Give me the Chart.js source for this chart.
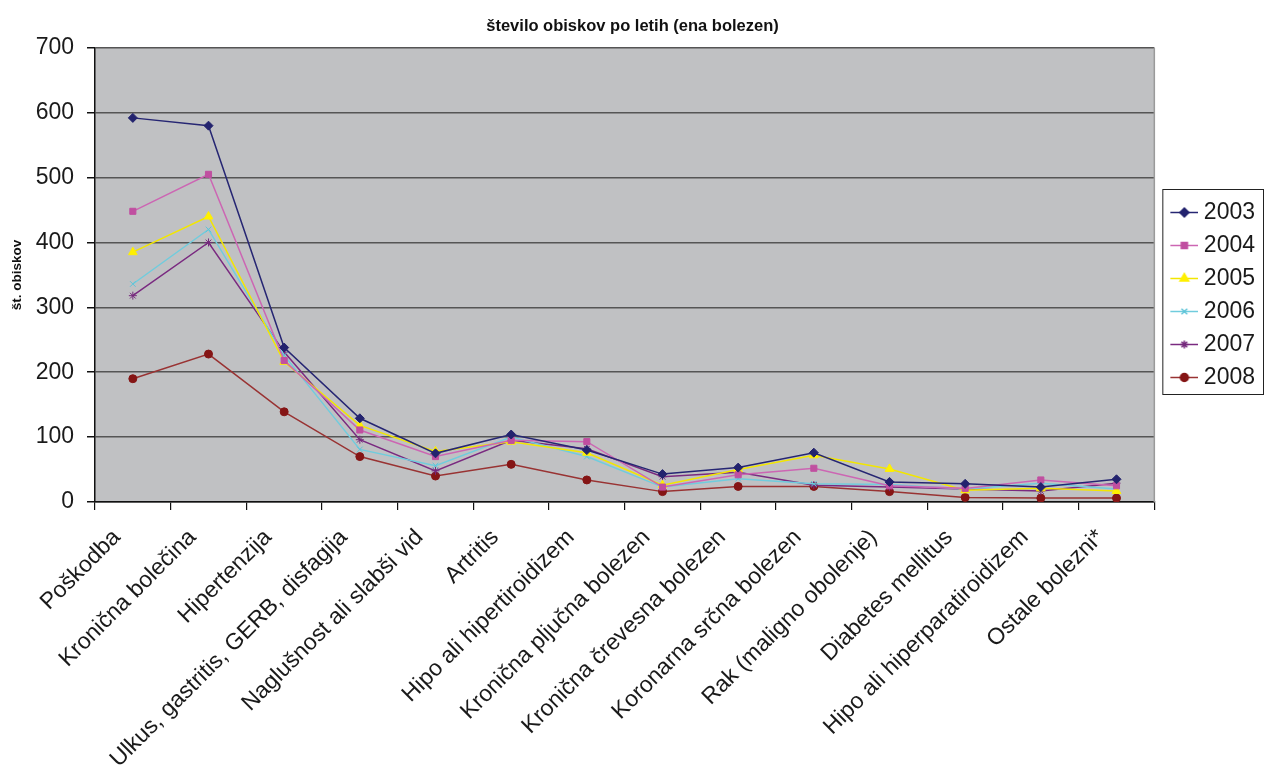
<!DOCTYPE html>
<html>
<head>
<meta charset="utf-8">
<script src="https://cdn.jsdelivr.net/npm/chart.js@4.4.1/dist/chart.umd.min.js"></script>
<style>
  html, body { margin: 0; padding: 0; background: #fff; }
  #wrap { width: 1265px; height: 772px; }
</style>
</head>
<body>
<div id="wrap"><canvas id="chart_obiskiPoLetih"></canvas></div>
<script>
var categories = [
  'Poškodba', 'Kronična bolečina', 'Hipertenzija', 'Ulkus, gastritis, GERB, disfagija',
  'Naglušnost ali slabši vid', 'Artritis', 'Hipo ali hipertiroidizem', 'Kronična pljučna bolezen',
  'Kronična črevesna bolezen', 'Koronarna srčna bolezen', 'Rak (maligno obolenje)',
  'Diabetes mellitus', 'Hipo ali hiperparatiroidizem', 'Ostale bolezni*'
];
var years = ['2003', '2004', '2005', '2006', '2007', '2008'];
var visits2003 = [592, 580, 238, 129, 75, 104, 80, 43, 53, 76, 31, 28, 23, 35];
var visits2004 = [448, 505, 218, 111, 70, 95, 93, 23, 42, 52, 25, 21, 34, 25];
var visits2005 = [385, 440, 216, 118, 78, 93, 76, 26, 50, 72, 51, 18, 21, 17];
var visits2006 = [336, 420, 226, 81, 56, 100, 70, 23, 36, 28, 27, 20, 29, 20];
var visits2007 = [318, 400, 231, 96, 48, 95, 82, 39, 46, 26, 23, 20, 17, 29];
var visits2008 = [190, 228, 139, 70, 40, 58, 34, 16, 24, 24, 16, 7, 6, 6];
var yTicks = [0, 100, 200, 300, 400, 500, 600, 700];

var allValues = [visits2003, visits2004, visits2005, visits2006, visits2007, visits2008];
var lineColors = ['#262673', '#CC66B3', '#F2E600', '#70CCDD', '#7A2A80', '#993333'];
var markColors = ['#23236E', '#C04FA0', '#FFF000', '#5EC4D8', '#752A7C', '#851515'];
var markStyles = ['rectRot', 'rect', 'triangle', 'crossRot', 'star', 'circle'];
var markSizes = [4.5, 4.3, 5, 4, 4, 4];

var FONT = 'Arial, "Liberation Sans", sans-serif';

// small picture: line with the marker in the middle, used as legend symbol
function legendSymbol(i) {
  var c = document.createElement('canvas');
  c.width = 40; c.height = 23;
  var g = c.getContext('2d');
  g.strokeStyle = lineColors[i];
  g.lineWidth = 1.5;
  g.beginPath(); g.moveTo(12, 11.5); g.lineTo(40, 11.5); g.stroke();
  g.fillStyle = markColors[i];
  g.strokeStyle = markColors[i];
  Chart.helpers.drawPoint(g, { pointStyle: markStyles[i], radius: markSizes[i], rotation: 0, borderWidth: 1 }, 26, 11.5);
  return c;
}

var datasets = years.map(function (y, i) {
  return {
    label: y,
    data: allValues[i],
    borderColor: lineColors[i],
    backgroundColor: markColors[i],
    borderWidth: 1.5,
    pointStyle: markStyles[i],
    pointRadius: markSizes[i],
    pointBorderColor: markColors[i],
    pointBackgroundColor: markColors[i],
    pointBorderWidth: 1,
    tension: 0
  };
});

var chart_obiskiPoLetih = new Chart(document.getElementById('chart_obiskiPoLetih'), {
  type: 'line',
  data: { labels: categories, datasets: datasets },
  options: {
    animation: false,
    responsive: true,
    maintainAspectRatio: false,
    layout: { padding: { left: 0, right: 0, top: 0, bottom: 0 } },
    plugins: {
      tooltip: { enabled: false },
      title: {
        display: true,
        text: 'število obiskov po letih (ena bolezen)',
        color: '#111',
        font: { family: FONT, size: 16.5, weight: 'bold' },
        padding: { top: 17, bottom: 11 }
      },
      legend: {
        position: 'right',
        align: 'start',
        title: { display: true, text: '', font: { size: 10 }, padding: { top: 0, bottom: 179 } },
        labels: {
          usePointStyle: true,
          pointStyleWidth: 28,
          padding: 10,
          color: '#1a1a1a',
          font: { family: FONT, size: 23 },
          generateLabels: function (chart) {
            var items = Chart.defaults.plugins.legend.labels.generateLabels(chart);
            items.forEach(function (it) { it.pointStyle = legendSymbol(it.datasetIndex); });
            return items;
          }
        }
      }
    },
    scales: {
      x: {
        type: 'category',
        offset: true,
        grid: { offset: true, drawOnChartArea: false, tickLength: 8, color: '#111', lineWidth: 1.2 },
        border: { color: '#111', width: 1.5 },
        ticks: {
          autoSkip: false, minRotation: 45, maxRotation: 45, padding: 14, labelOffset: -16,
          color: '#1a1a1a', font: { family: FONT, size: 23 }
        },
        afterFit: function (scale) { scale.height = 270; }
      },
      y: {
        min: 0,
        max: 700,
        afterBuildTicks: function (scale) { scale.ticks = yTicks.map(function (v) { return { value: v }; }); },
        grid: { color: '#555555', lineWidth: 1.5, tickLength: 8, tickColor: '#111' },
        border: { color: '#111', width: 1.5 },
        ticks: { padding: 13, color: '#1a1a1a', font: { family: FONT, size: 23 } },
        title: {
          display: true,
          text: 'št. obiskov',
          color: '#111',
          font: { family: FONT, size: 13.5, weight: 'bold' },
          padding: { top: 9, bottom: 0 }
        },
        afterFit: function (scale) { scale.width = 95; }
      }
    }
  },
  plugins: [{
    id: 'plotBackground',
    beforeDraw: function (chart) {
      var a = chart.chartArea, ctx = chart.ctx;
      ctx.save();
      ctx.fillStyle = 'white';
      ctx.fillRect(0, 0, chart.width, chart.height);
      ctx.fillStyle = '#C0C1C3';
      ctx.fillRect(a.left, a.top, a.right - a.left, a.bottom - a.top);
      ctx.restore();
    },
    afterDraw: function (chart) {
      var a = chart.chartArea, ctx = chart.ctx, lg = chart.legend;
      ctx.save();
      ctx.strokeStyle = '#9a9a9a';
      ctx.lineWidth = 1.5;
      ctx.beginPath(); ctx.moveTo(a.right, a.top); ctx.lineTo(a.right, a.bottom); ctx.stroke();
      // frame round the legend entries
      var hb = lg.legendHitBoxes;
      if (hb && hb.length) {
        var top = hb[0].top - 12, bottom = hb[hb.length - 1].top + hb[hb.length - 1].height + 5;
        ctx.strokeStyle = '#222';
        ctx.lineWidth = 1;
        ctx.strokeRect(lg.left + 8.5, top + 0.5, chart.width - lg.left - 10, bottom - top);
      }
      ctx.restore();
    }
  }]
});
</script>
</body>
</html>
